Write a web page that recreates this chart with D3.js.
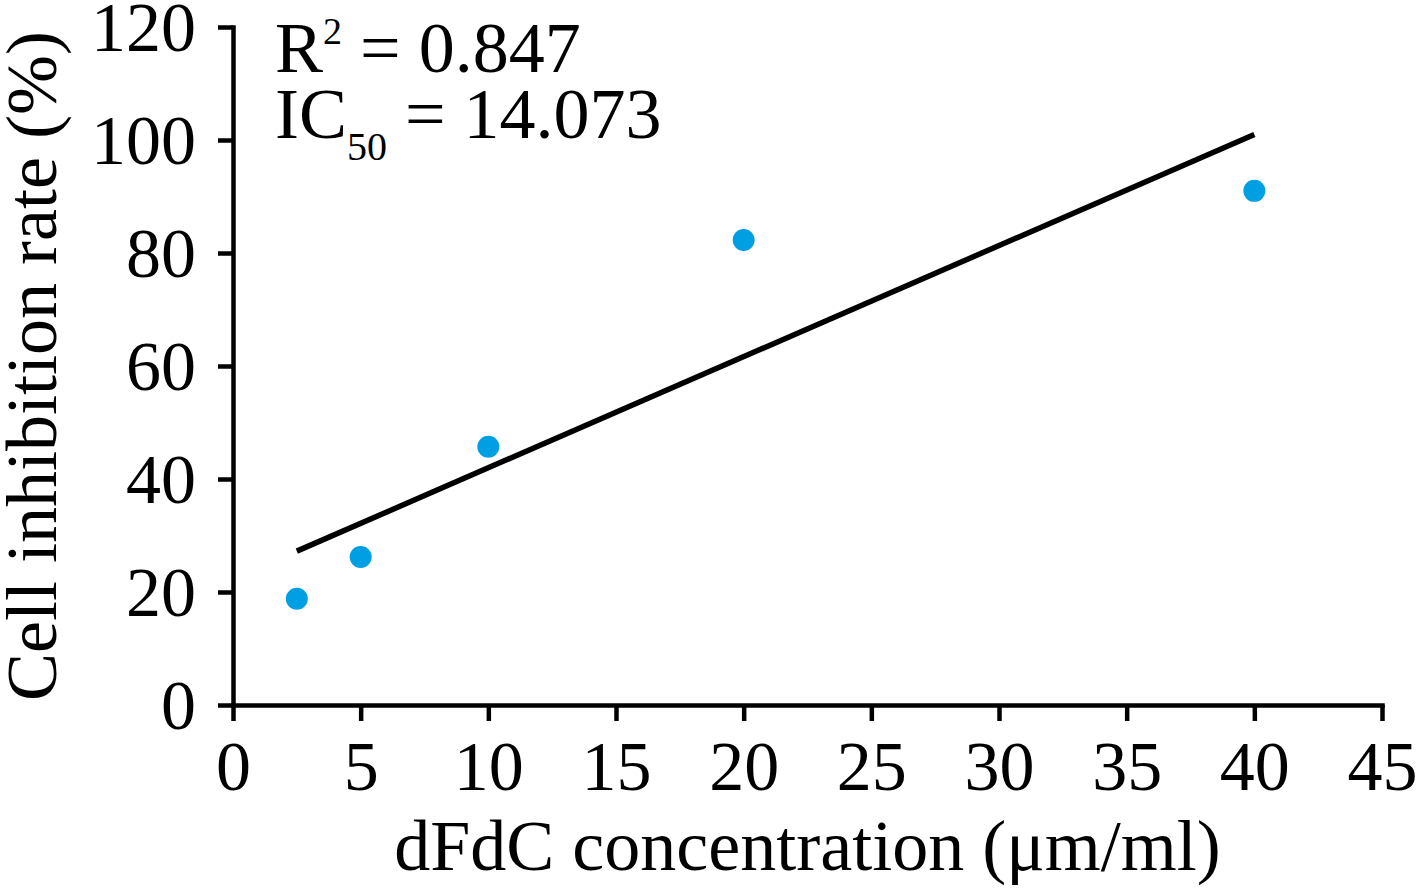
<!DOCTYPE html>
<html><head><meta charset="utf-8">
<script src="https://cdn.jsdelivr.net/npm/d3@7"></script>
<style>body{margin:0;background:#fff}svg{display:block}text{font-family:"Liberation Serif","DejaVu Serif",serif;fill:#000}</style>
</head><body>
<script>
const concentrations = [2.5, 5, 10, 20, 40];
const inhibition = [18.8, 26.2, 45.7, 82.3, 91.0];
const xTicks = [0, 5, 10, 15, 20, 25, 30, 35, 40, 45];
const yTicks = [0, 20, 40, 60, 80, 100, 120];
const xTitle = "dFdC concentration (μm/ml)";
const yTitle = "Cell inhibition rate (%)";
const r2Text = "0.847";
const ic50Text = "14.073";

const W = 1418, H = 890;
const svg = d3.select("body").append("svg").attr("width", W).attr("height", H);
const x = d3.scaleLinear().domain([0, 45]).range([233, 1382]);
const y = d3.scaleLinear().domain([0, 120]).range([705, 27]);
const fsTick = 70, fsTitle = 72;

// axes
const xAxis = svg.append("g").attr("transform", `translate(0,${y(0)})`)
  .call(d3.axisBottom(x).tickValues(xTicks).tickSize(16).tickPadding(22).tickSizeOuter(0));
const yAxis = svg.append("g").attr("transform", `translate(${x(0)},0)`)
  .call(d3.axisLeft(y).tickValues(yTicks).tickSize(15).tickPadding(22).tickSizeOuter(0));
[xAxis, yAxis].forEach(g => {
  g.selectAll(".domain").attr("stroke", "#000").attr("stroke-width", 4.5).attr("stroke-linecap", "square");
  g.selectAll(".tick line").attr("stroke", "#000").attr("stroke-width", 4.5);
  g.selectAll("text").attr("font-size", fsTick).attr("font-family", "Liberation Serif").attr("fill", "#000");
});
xAxis.selectAll("text").attr("dy", "0.67em");
yAxis.selectAll("text").attr("dy", "0.33em");

// trendline via least squares
const mx = d3.mean(concentrations), my = d3.mean(inhibition);
const sxy = d3.sum(concentrations, (c, i) => (c - mx) * (inhibition[i] - my));
const sxx = d3.sum(concentrations, c => (c - mx) ** 2);
const slope = sxy / sxx, intercept = my - slope * mx;
const ext = d3.extent(concentrations);
svg.append("line")
  .attr("x1", x(ext[0])).attr("y1", y(intercept + slope * ext[0]))
  .attr("x2", x(ext[1])).attr("y2", y(intercept + slope * ext[1]))
  .attr("stroke", "#000").attr("stroke-width", 5.5);

// points
svg.selectAll("circle.pt").data(concentrations).enter().append("circle")
  .attr("class", "pt")
  .attr("cx", d => x(d)).attr("cy", (d, i) => y(inhibition[i]))
  .attr("r", 11).attr("fill", "#009FE3");

// titles
svg.append("text").attr("x", (x(0) + x(45)) / 2).attr("y", 870)
  .attr("text-anchor", "middle").attr("font-size", fsTitle).text(xTitle);
svg.append("text").attr("transform", `translate(56,${(y(0) + y(120)) / 2}) rotate(-90)`)
  .attr("text-anchor", "middle").attr("font-size", fsTitle).text(yTitle);

// annotation
const t1 = svg.append("text").attr("x", 275).attr("y", 72).attr("font-size", 72);
t1.append("tspan").text("R");
t1.append("tspan").attr("font-size", 38).attr("dy", -28).text("2");
t1.append("tspan").attr("dy", 28).text(" = " + r2Text);
const t2 = svg.append("text").attr("x", 275).attr("y", 138).attr("font-size", 72);
t2.append("tspan").text("IC");
t2.append("tspan").attr("font-size", 40).attr("dy", 22).text("50");
t2.append("tspan").attr("dy", -22).text(" = " + ic50Text);
</script>
</body></html>
